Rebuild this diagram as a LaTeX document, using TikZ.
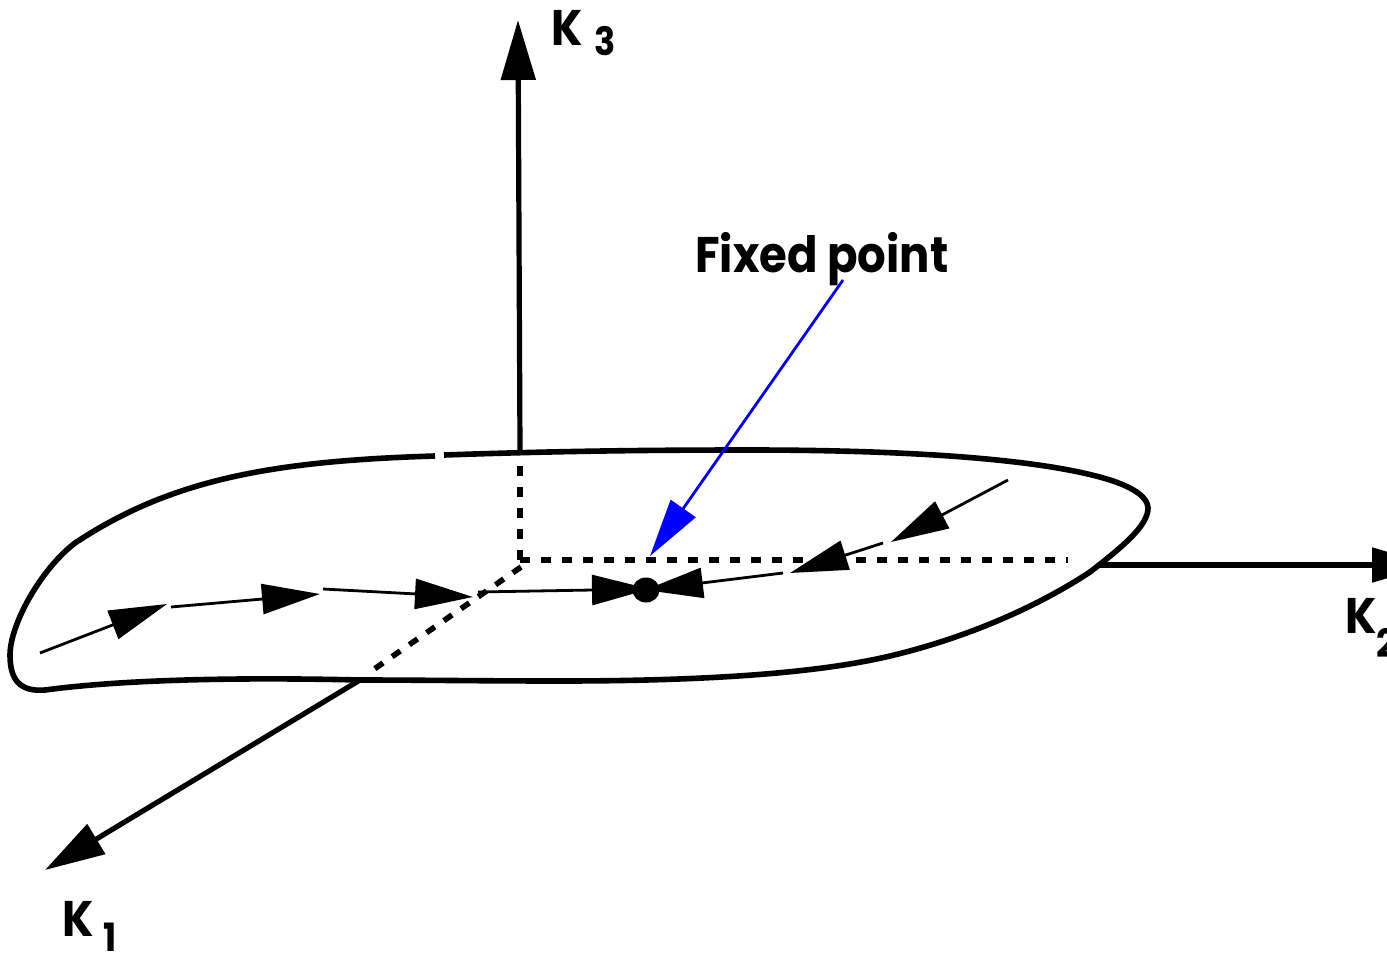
\documentclass[tikz,border=0pt]{standalone}
\usepackage{graphicx}
\usepackage{fontspec}
\setmainfont{Poppins}
\usetikzlibrary{arrows.meta}
\newcommand{\nrw}[1]{\scalebox{0.9}[1]{#1}}
\tikzset{
  x=1pt,y=-1pt,
  axis/.style={line width=5.2pt,-{Triangle[length=60pt,width=34pt]}},
  traj/.style={line width=2.8pt,-{Triangle[length=58pt,width=30pt]}},
  dash3/.style={line width=5.6pt,dash pattern=on 10pt off 11pt},
  blob/.style={line width=5.6pt},
  lab/.style={inner sep=0pt,anchor=base west,font=\fontsize{50}{50}\selectfont\bfseries},
  sublab/.style={inner sep=0pt,anchor=base west,font=\fontsize{39}{39}\selectfont\bfseries},
}
\begin{document}
\begin{tikzpicture}
\useasboundingbox (0,0) rectangle (1387,953);
% axes
\coordinate (o3) at (520,450); \coordinate (t3) at (518,20);
\coordinate (o2) at (1100,565); \coordinate (t2) at (1432,565);
\coordinate (o1) at (360,680); \coordinate (t1) at (45,870);
\draw[axis] (o3) -- (t3);
\draw[axis] (o2) -- (t2);
\draw[axis] (o1) -- (t1);
% hidden axis parts
\coordinate (c) at (520,560); \coordinate (c3) at (520,456);
\coordinate (c2) at (1068,560); \coordinate (c1a) at (521,567); \coordinate (c1b) at (370,672);
\draw[dash3] (c) -- (c3);
\draw[dash3] (c) -- (c2);
\draw[dash3] (c1a) -- (c1b);
% outline
\draw[blob] (444,455) .. controls (560,451) and (650,450) .. (750,450)
 .. controls (900,450) and (1040,458) .. (1110,480)
 .. controls (1135,488) and (1148,498) .. (1148,508)
 .. controls (1148,525) and (1125,545) .. (1090,572)
 .. controls (1040,605) and (970,637) .. (890,656)
 .. controls (810,675) and (690,681) .. (560,681)
 .. controls (480,681) and (420,680) .. (360,680)
 .. controls (230,677) and (120,680) .. (45,690)
 .. controls (20,692) and (10,680) .. (10,655)
 .. controls (10,625) and (40,570) .. (75,543)
 .. controls (170,480) and (270,461) .. (435,456);
% trajectories
\coordinate (a0) at (40,653);  \coordinate (a1) at (167,604);
\coordinate (b0) at (171,607); \coordinate (b1) at (320,594);
\coordinate (d0) at (323,589); \coordinate (d1) at (473,597);
\coordinate (e0) at (478,592); \coordinate (e1) at (650,589);
\coordinate (f0) at (1008,480);\coordinate (f1) at (891,542);
\coordinate (g0) at (883,543); \coordinate (g1) at (790,573);
\coordinate (h0) at (783,573); \coordinate (h1) at (645,590);
\draw[traj] (a0) -- (a1);
\draw[traj] (b0) -- (b1);
\draw[traj] (d0) -- (d1);
\draw[traj] (e0) -- (e1);
\draw[traj] (f0) -- (f1);
\draw[traj] (g0) -- (g1);
\draw[traj] (h0) -- (h1);
\fill (646,590) ellipse [x radius=13.5pt,y radius=12.5pt];
% pointer
\node[lab] (fp) at (695,272) {\nrw{Fixed point}};
\coordinate (bp) at (843,280); \coordinate (bt) at (650,556);
\draw[blue,line width=2.8pt,-{Triangle[length=58pt,width=30pt]}] (bp) -- (bt);
% labels
\node[lab] (k3) at (551,45) {\nrw{K}};
\node[sublab] (s3) at (594,55) {\nrw{3}};
\node[lab] (k2) at (1345,633) {\nrw{K}};
\node[sublab] (s2) at (1376,657) {\nrw{2}};
\node[lab] (k1) at (62,936) {\nrw{K}};
\node[sublab] (s1) at (103,951) {\nrw{1}};
\end{tikzpicture}
\end{document}
